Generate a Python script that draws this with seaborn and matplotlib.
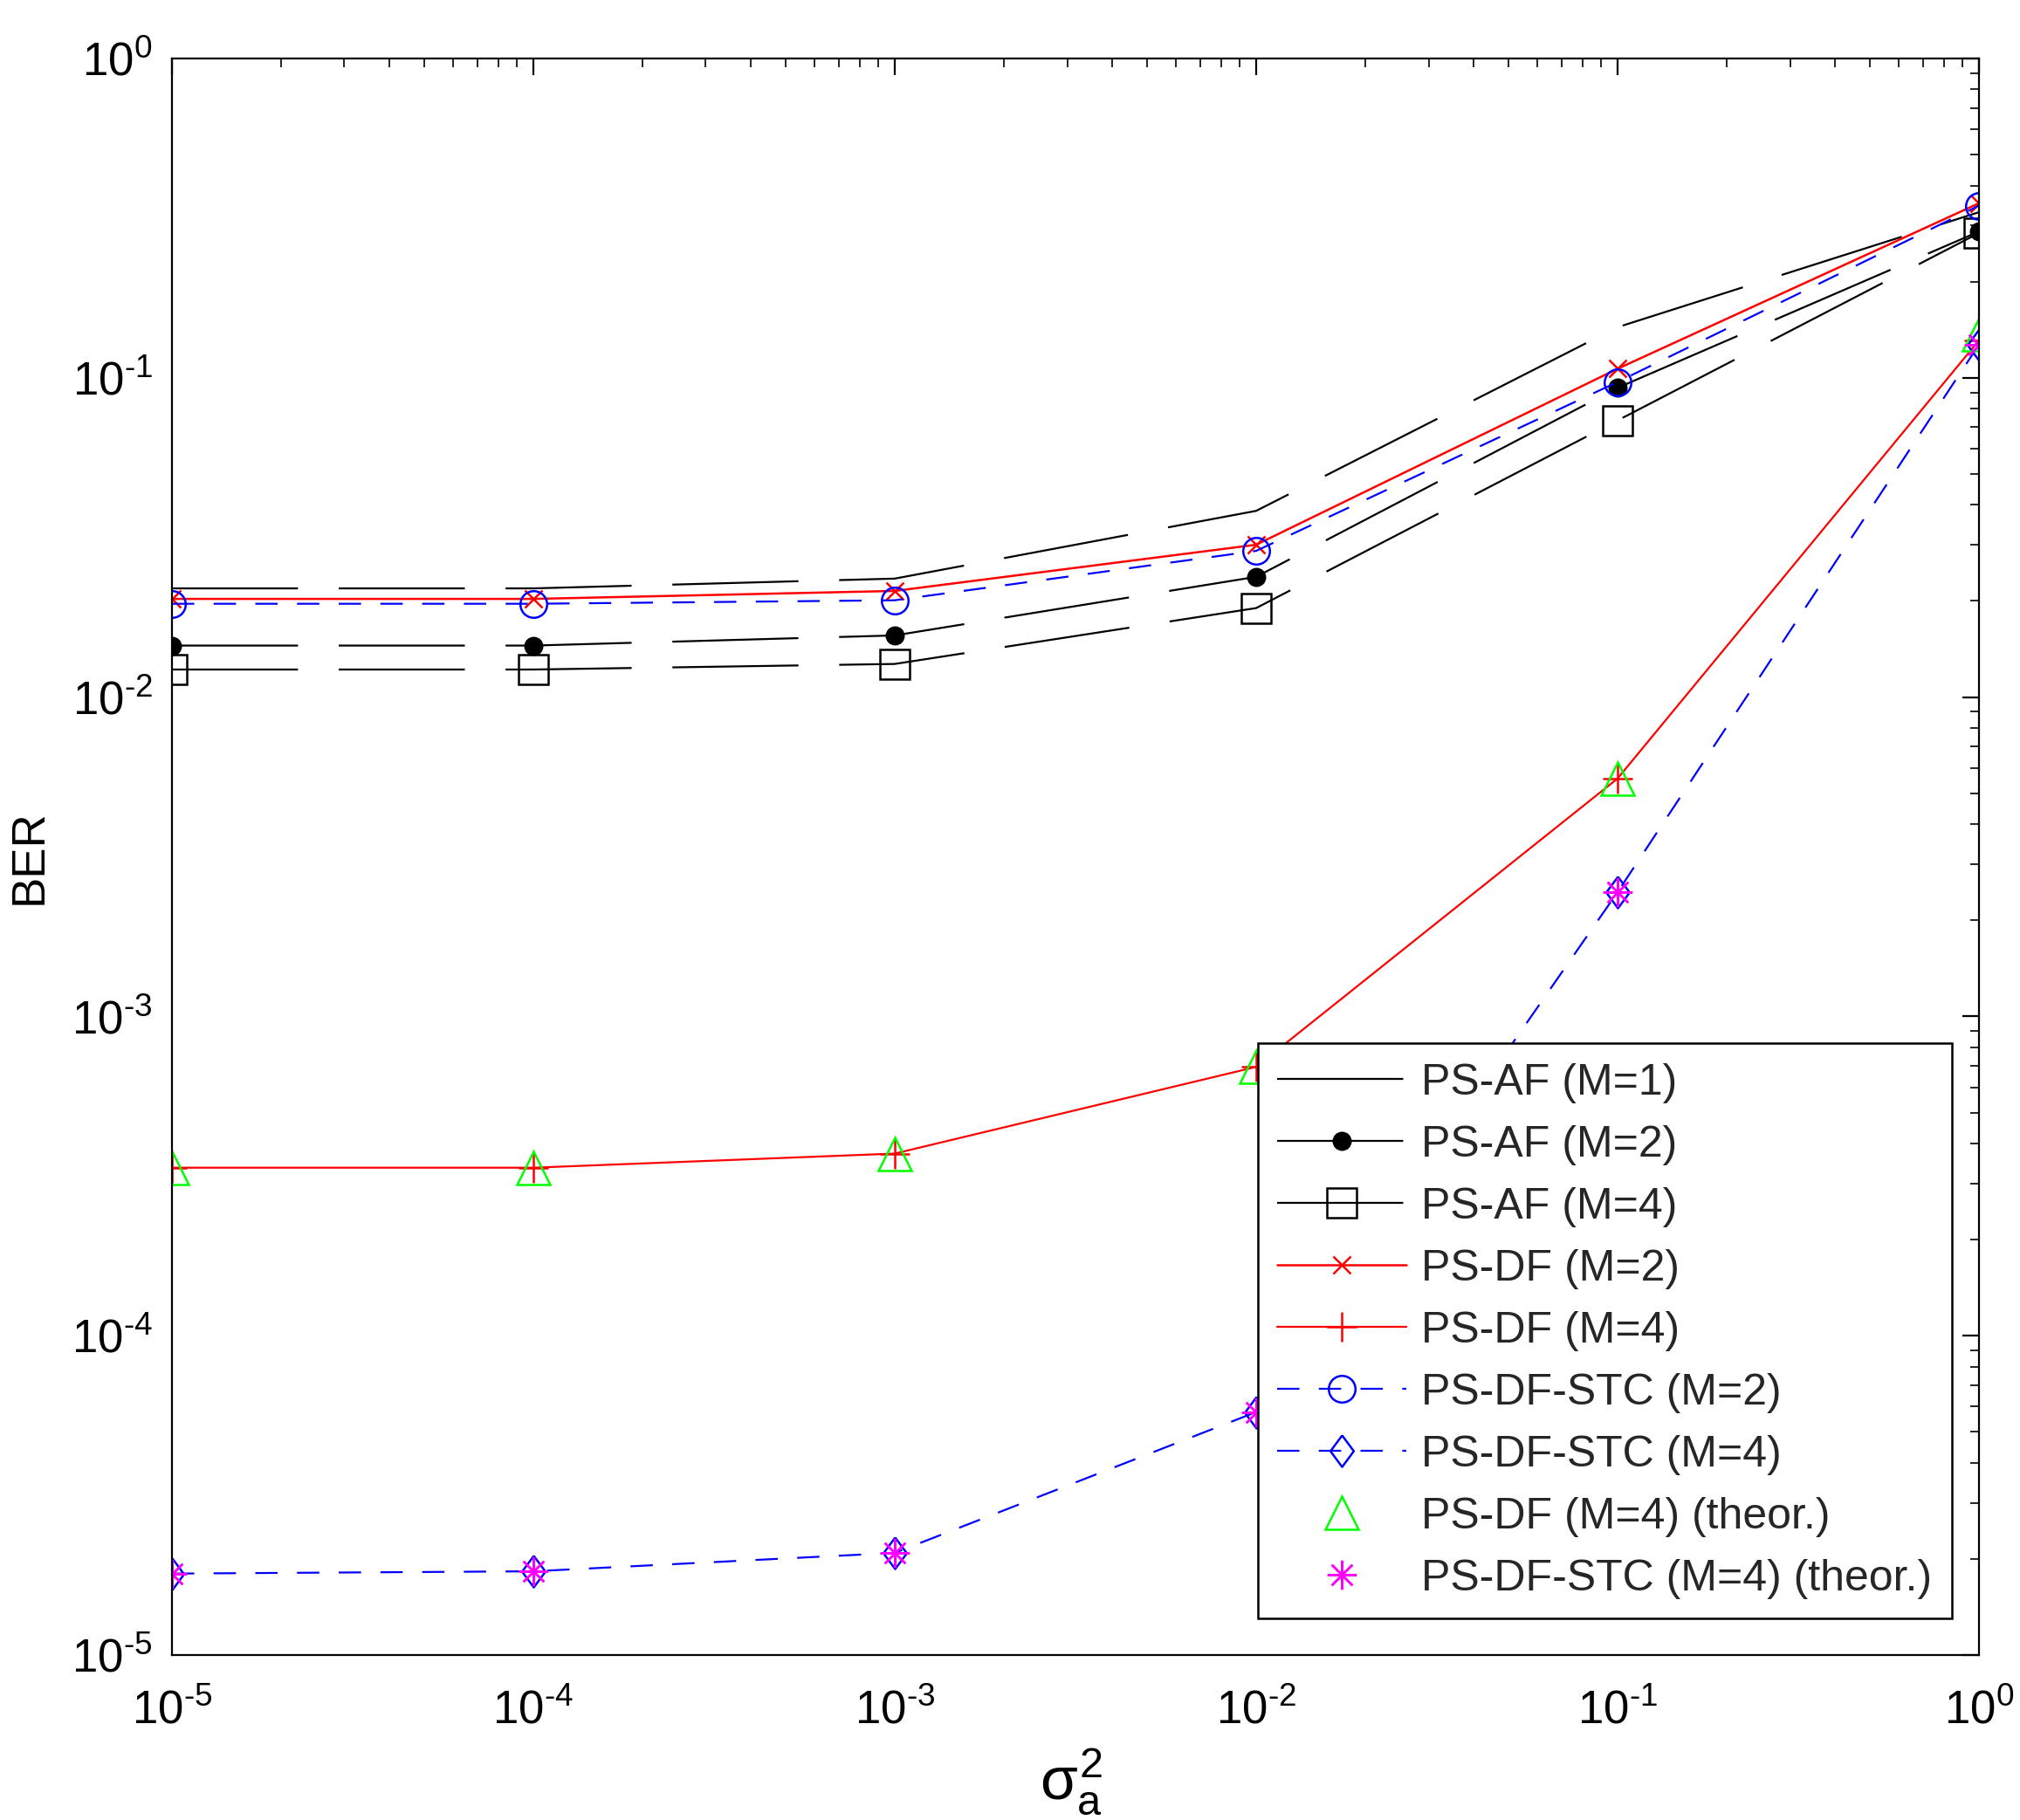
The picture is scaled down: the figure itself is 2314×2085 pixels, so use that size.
import matplotlib
import matplotlib.pyplot as plt
import numpy as np
import pandas as pd
import seaborn as sns
from matplotlib.ticker import FuncFormatter, LogLocator

matplotlib.use("Agg")

# x axis: sigma_a^2
sigma2 = [1e-5, 1e-4, 1e-3, 1e-2, 1e-1, 1e0]

# BER curves
ber_af_m1 = [0.0219, 0.0219, 0.0235, 0.0383, 0.144, 0.33]
ber_af_m2 = [0.0145, 0.0145, 0.0156, 0.0238, 0.093, 0.287]
ber_af_m4 = [0.0122, 0.0122, 0.0127, 0.0190, 0.0735, 0.284]
ber_df_m2 = [0.0203, 0.0203, 0.0215, 0.0300, 0.1067, 0.352]
ber_df_m4 = [3.36e-4, 3.36e-4, 3.72e-4, 6.95e-4, 5.56e-3, 0.131]
ber_stc_m2 = [0.0196, 0.0196, 0.0201, 0.0287, 0.097, 0.346]
ber_stc_m4 = [1.80e-5, 1.83e-5, 2.09e-5, 5.77e-5, 2.45e-3, 0.127]
ber_df_m4_theor = [3.36e-4, 3.36e-4, 3.72e-4, 6.95e-4, 5.56e-3, 0.137]
ber_stc_m4_theor = [1.80e-5, 1.83e-5, 2.09e-5, 5.77e-5, 2.45e-3, 0.127]

labels = [
    "PS-AF (M=1)",
    "PS-AF (M=2)",
    "PS-AF (M=4)",
    "PS-DF (M=2)",
    "PS-DF (M=4)",
    "PS-DF-STC (M=2)",
    "PS-DF-STC (M=4)",
    "PS-DF (M=4) (theor.)",
    "PS-DF-STC (M=4) (theor.)",
]

sns.set_theme(style="white")
plt.rcParams["font.family"] = ["Liberation Sans", "DejaVu Sans"]
plt.rcParams["mathtext.fontset"] = "custom"
plt.rcParams["mathtext.rm"] = "Liberation Sans"
plt.rcParams["mathtext.it"] = "Liberation Sans"
plt.rcParams["mathtext.bf"] = "Liberation Sans:bold"

DPI = 200
fig = plt.figure(figsize=(2314 / DPI, 2085 / DPI), dpi=DPI)
ax = fig.add_axes([0.0851, 0.0906, 0.8946, 0.8773])

AF_DASH = (65, 21)
STC_DASH = (11.5, 10)
# MATLAB-like diamond (a bit taller than wide)
DIAMOND = [(0, 1), (0.74, 0), (0, -1), (-0.74, 0), (0, 1)]

# (values, label, color, marker, size, filled, linestyle, dashes, lw)
series = [
    (ber_af_m1, labels[0], "black", None, 0, True, "-", AF_DASH, 0.8),
    (ber_af_m2, labels[1], "black", "o", 7, True, "-", AF_DASH, 0.8),
    (ber_af_m4, labels[2], "black", "s", 12, False, "-", AF_DASH, 0.8),
    (ber_df_m2, labels[3], "red", "x", 7, True, "-", None, 0.9),
    (ber_df_m4, labels[4], "red", "+", 12, True, "-", None, 0.8),
    (ber_stc_m2, labels[5], "blue", "o", 11, False, "-", STC_DASH, 0.8),
    (ber_stc_m4, labels[6], "blue", DIAMOND, 13, False, "-", STC_DASH, 0.8),
    (ber_df_m4_theor, labels[7], "#00ff00", "^", 14, False, "none", None, 0.8),
    (ber_stc_m4_theor, labels[8], "magenta", (8, 2, 0), 12, True, "none", None, 0.8),
]

for vals, lab, col, mk, ms, filled, ls, dash, lw in series:
    df = pd.DataFrame({"x": sigma2, "y": vals})
    sns.lineplot(
        data=df, x="x", y="y", ax=ax, color=col, label=lab,
        marker=mk, markersize=ms, linewidth=lw, linestyle=ls,
        markerfacecolor=(col if filled else "none"), markeredgecolor=col,
        markeredgewidth=0.9, errorbar=None, sort=False,
    )
    line = ax.lines[-1]
    if dash is not None:
        line.set_dashes(dash)

ax.set_xscale("log")
ax.set_yscale("log")
ax.set_xlim(1e-5, 1e0)
ax.set_ylim(1e-5, 1e0)


def _pow10(v, pos):
    e = int(round(np.log10(v)))
    return r"$10^{\text{%d}}$" % e


ax.xaxis.set_major_formatter(FuncFormatter(_pow10))
ax.yaxis.set_major_formatter(FuncFormatter(_pow10))
ax.xaxis.set_minor_locator(LogLocator(base=10, subs=np.arange(2, 10), numticks=20))
ax.yaxis.set_minor_locator(LogLocator(base=10, subs=np.arange(2, 10), numticks=20))

for s in ax.spines.values():
    s.set_color("black")
    s.set_linewidth(0.8)

ax.tick_params(which="both", direction="in", top=True, right=True,
               colors="black", labelsize=19)
ax.tick_params(which="major", length=7, width=0.8)
ax.tick_params(axis="x", which="major", pad=14)
ax.tick_params(axis="y", which="major", pad=8)
ax.tick_params(which="minor", length=3.5, width=0.6)

ax.set_xlabel(r"$\sigma_a^2$", fontsize=25, color="black")
ax.xaxis.set_label_coords(0.4975, -0.058)
ax.set_ylabel("BER", fontsize=19, color="black")
ax.yaxis.set_label_coords(-0.0667, 0.5)

leg = ax.legend(loc="lower right", bbox_to_anchor=(0.985, 0.023), fontsize=18,
                frameon=True, fancybox=False, framealpha=1, edgecolor="black",
                handlelength=2.95, labelspacing=0.5, borderpad=0.45,
                handletextpad=0.35, borderaxespad=0)
leg.get_frame().set_linewidth(0.9)

fig.savefig("out.png", dpi=DPI, facecolor="white")
